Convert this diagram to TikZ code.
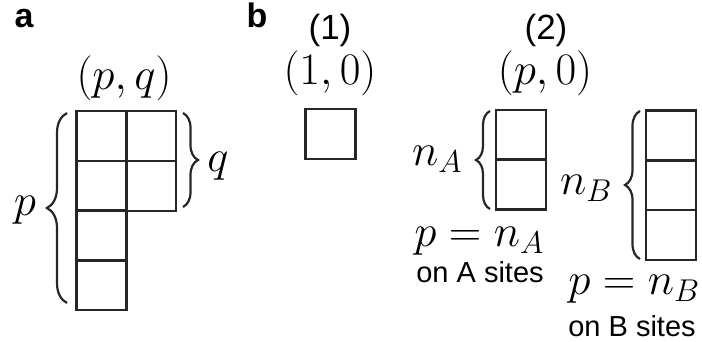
\RequirePackage{fix-cm}
\documentclass[tikz,border=0pt]{standalone}
\usepackage{fontspec}
\setsansfont{Liberation Sans}
\usetikzlibrary{decorations.pathreplacing}
\tikzset{
  cell/.style={draw=black!85, line width=2.4pt, minimum width=50pt, minimum height=50pt, inner sep=0pt, outer sep=0pt},
  brc/.style={decorate, decoration={brace, amplitude=#1}, line width=2.2pt, draw=black!85},
  mlab/.style={inner sep=0pt, font=\fontsize{45}{52}\selectfont},
  slab/.style={inner sep=0pt, font=\fontsize{35}{42}\selectfont\sffamily},
  tlab/.style={inner sep=0pt, font=\fontsize{29}{34}\selectfont\sffamily},
  panel/.style={inner sep=0pt, anchor=base, font=\fontsize{34}{40}\selectfont\sffamily\bfseries}
}
\begin{document}
\begin{tikzpicture}[x=1pt, y=-1pt]
\useasboundingbox (0,0) rectangle (702,341);
% panel labels
\node[panel] (la) at (24,27.5) {a};
\node[panel] (lb) at (257,27.5) {b};
% panel a
\node[cell] (a11) at (101.5,136) {};
\node[cell] (a12) at (151,136) {};
\node[cell] (a21) at (101.5,186) {};
\node[cell] (a22) at (151,186) {};
\node[cell] (a31) at (101.5,235.5) {};
\node[cell] (a41) at (101.5,285) {};
\node[mlab] (pq) at (124,78) {$(p,q)$};
\coordinate (bp1) at (67,303);
\coordinate (bp2) at (67,113);
\draw[brc=20pt] (bp1) -- (bp2);
\node[mlab] (plab) at (25,210) {$p$};
\coordinate (bq1) at (183,113);
\coordinate (bq2) at (183,207);
\draw[brc=15pt] (bq1) -- (bq2);
\node[mlab] (qlab) at (218,166) {$q$};
% panel b (1)
\node[slab] (h1) at (330,30) {(1)};
\node[mlab] (t1) at (330,73.5) {$(1,0)$};
\node[cell] (b1) at (330.5,134) {};
% panel b (2)
\node[slab] (h2) at (546,30) {(2)};
\node[mlab] (t2) at (545,73.5) {$(p,0)$};
\node[cell] (ca1) at (521,135) {};
\node[cell] (ca2) at (521,184.5) {};
\coordinate (ba1) at (490,209);
\coordinate (ba2) at (490,111);
\draw[brc=14pt] (ba1) -- (ba2);
\node[mlab] (nA) at (437,159) {$n_A$};
\node[mlab] (eqA) at (479,241) {$p=n_A$};
\node[tlab] (sA) at (480,272) {on A sites};
\node[cell] (cb1) at (671,135.5) {};
\node[cell] (cb2) at (671,185) {};
\node[cell] (cb3) at (671,235) {};
\coordinate (bb1) at (640,259);
\coordinate (bb2) at (640,111);
\draw[brc=15pt] (bb1) -- (bb2);
\node[mlab] (nB) at (586,188) {$n_B$};
\node[mlab] (eqB) at (634,289) {$p=n_B$};
\node[tlab] (sB) at (632,326) {on B sites};
\end{tikzpicture}
\end{document}
